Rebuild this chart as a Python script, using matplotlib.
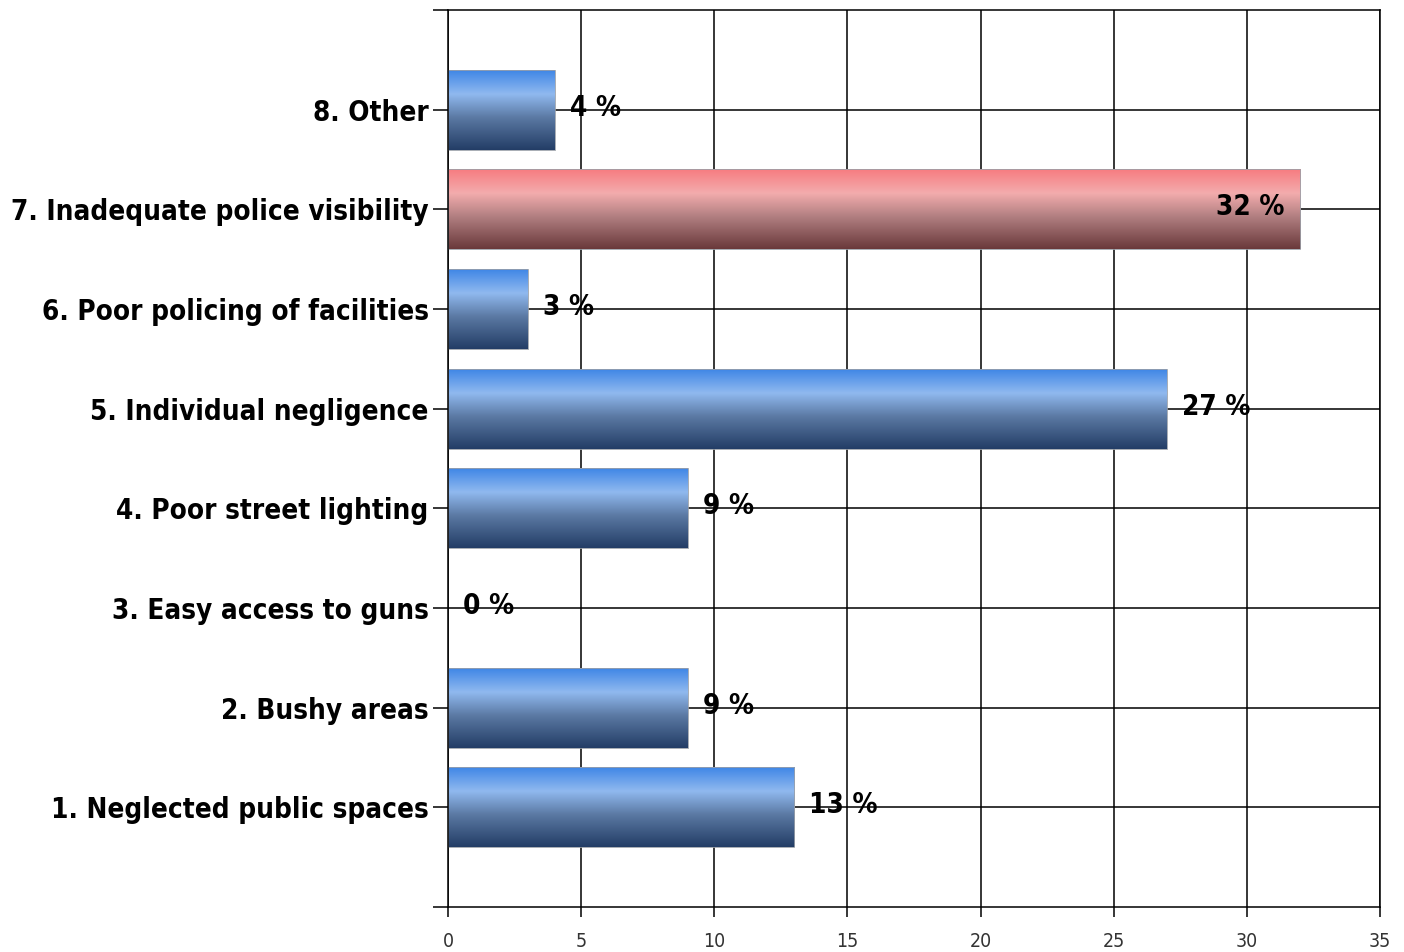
import numpy as np
import matplotlib
matplotlib.use("Agg")
import matplotlib.pyplot as plt
from matplotlib.colors import LinearSegmentedColormap

categories = ["1. Neglected public spaces", "2. Bushy areas", "3. Easy access to guns",
              "4. Poor street lighting", "5. Individual negligence",
              "6. Poor policing of facilities", "7. Inadequate police visibility",
              "8. Other"]
values = [13, 9, 0, 9, 27, 3, 32, 4]
highlight = "7. Inadequate police visibility"
xticks = [0, 5, 10, 15, 20, 25, 30, 35]

plt.rcParams['font.family'] = ['DejaVu Sans']
plt.rcParams['font.stretch'] = 'condensed'

blue = LinearSegmentedColormap.from_list(
    "blue", [(0.0, "#3f86e6"), (0.3, "#90b9ef"), (0.6, "#5a78a2"), (1.0, "#233d66")])
red = LinearSegmentedColormap.from_list(
    "red", [(0.0, "#f77c80"), (0.3, "#f3acad"), (0.6, "#b07e80"), (1.0, "#6a393b")])

fig = plt.figure(figsize=(14.04, 9.52), dpi=100)
ax = fig.add_axes([448 / 1404, 1 - 907 / 952, 932 / 1404, 897 / 952])

y = np.arange(len(categories))
bars = ax.barh(y, values, height=0.8, color="none", zorder=2)

# vertical gradient drawn inside each bar
grad = np.linspace(0, 1, 256).reshape(-1, 1)
for bar, cat, val in zip(bars, categories, values):
    x0, y0, w, h = bar.get_x(), bar.get_y(), bar.get_width(), bar.get_height()
    if w > 0:
        cmap = red if cat == highlight else blue
        ax.imshow(grad, extent=[x0, x0 + w, y0, y0 + h], aspect="auto",
                  cmap=cmap, zorder=2, interpolation="bilinear")
        ax.add_patch(plt.Rectangle((x0, y0), w, h, fill=False,
                                   edgecolor="#9aa0a8", lw=0.6, zorder=2.5))
    if cat == highlight:
        ax.annotate(f"{val} %", (val, bar.get_y() + h / 2), xytext=(-11, 1.5),
                    textcoords="offset points", ha="right", va="center",
                    fontsize=20, fontweight="bold", zorder=4)
    else:
        ax.annotate(f"{val} %", (val, bar.get_y() + h / 2), xytext=(11, 1.5),
                    textcoords="offset points", ha="left", va="center",
                    fontsize=20, fontweight="bold", zorder=4)

ax.set_xlim(0, 35)
ax.set_ylim(-1, 8)
ax.set_xticks(xticks)
ax.set_yticks(y)
ax.set_yticks([-1, 8], minor=True)
ax.set_yticklabels(categories, fontsize=20, fontweight="bold", va="center_baseline")
ax.set_xticklabels([str(t) for t in xticks], fontsize=14, color="#333333")

ax.grid(True, which="major", color="black", lw=1.1, zorder=1)
ax.set_axisbelow(True)
ax.tick_params(axis="y", which="both", length=11, width=1.1, pad=3)
ax.tick_params(axis="x", length=7, width=1.1, pad=11)
for s in ax.spines.values():
    s.set_linewidth(1.1)
    s.set_color("black")

fig.savefig("out.png", dpi=100)
